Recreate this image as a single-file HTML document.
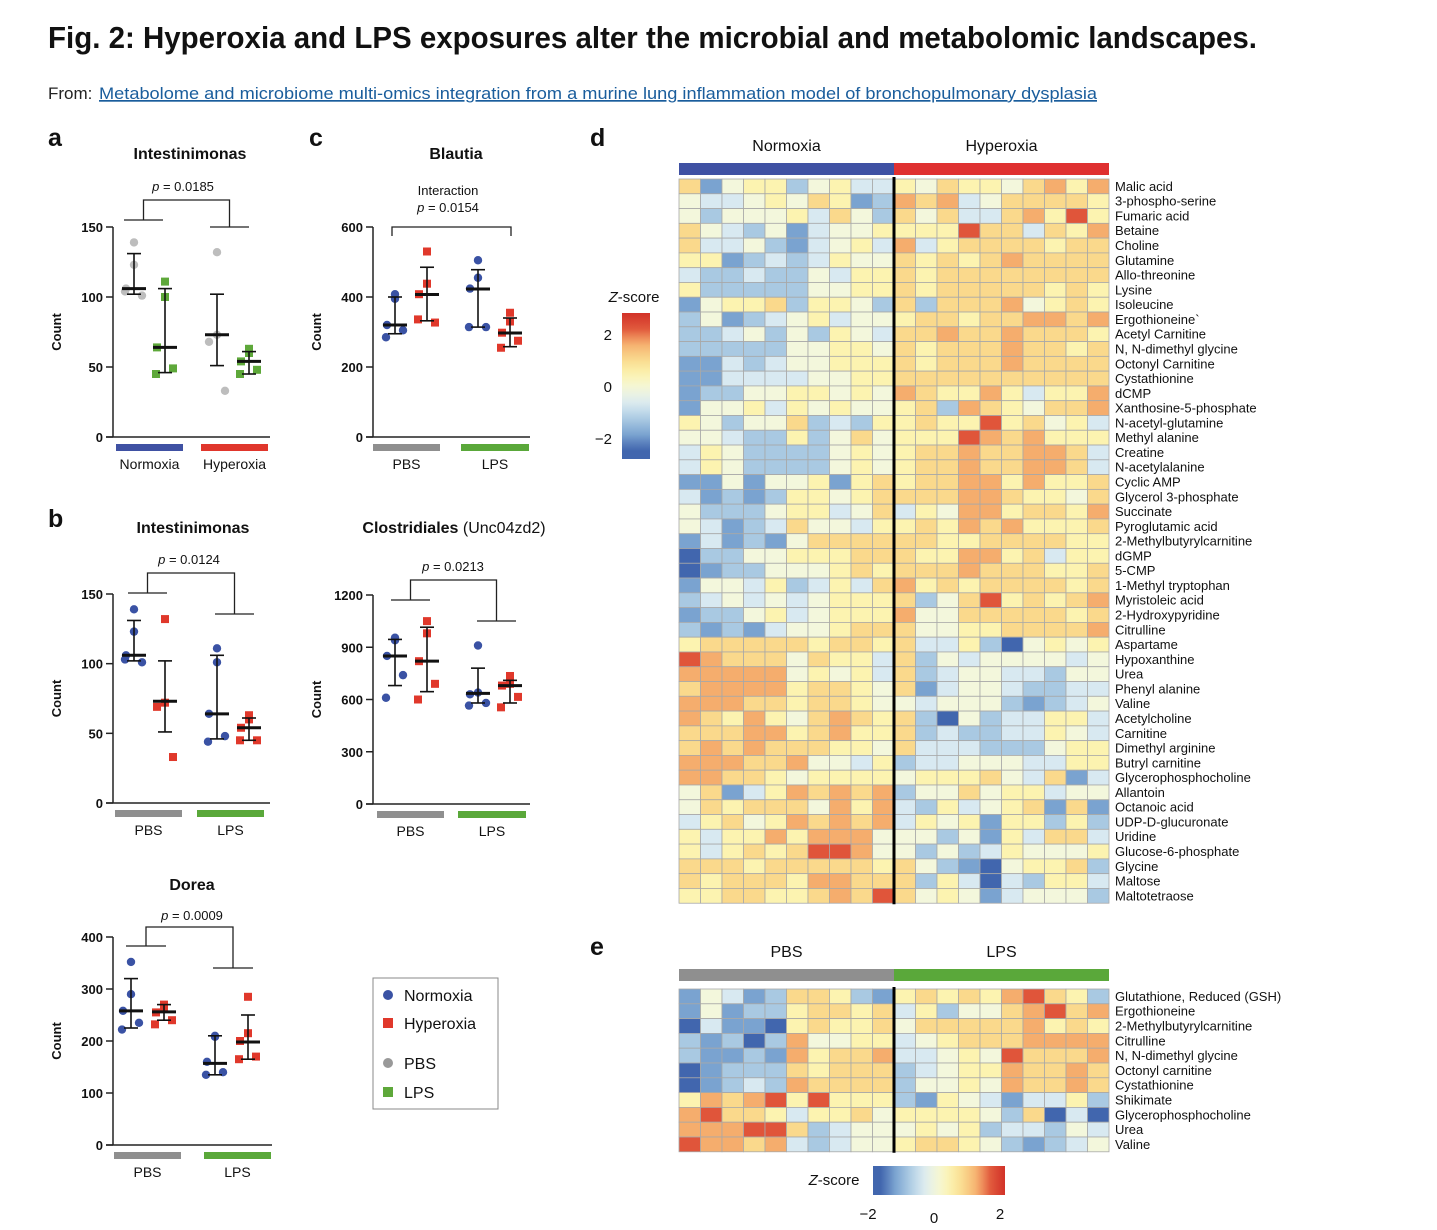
<!DOCTYPE html>
<html><head><meta charset="utf-8"><style>
body{margin:0;background:#fff;}
svg{display:block;font-family:"Liberation Sans",Arial,sans-serif;}
</style></head><body>
<svg id="fig" width="1437" height="1230" viewBox="0 0 1437 1230" xmlns="http://www.w3.org/2000/svg">
<text x="48" y="48" font-size="31" font-weight="bold" textLength="1209" lengthAdjust="spacingAndGlyphs" fill="#111">Fig. 2: Hyperoxia and LPS exposures alter the microbial and metabolomic landscapes.</text>
<text x="48" y="99" font-size="17" fill="#222">From: </text>
<text x="99" y="99" font-size="17" fill="#1a5d9c" text-decoration="underline" textLength="998" lengthAdjust="spacingAndGlyphs">Metabolome and microbiome multi-omics integration from a murine lung inflammation model of bronchopulmonary dysplasia</text>
<g id="panels"></g>
</svg>
<script>
// ---------- scatter data ----------
const aVals=[[139,123,106,101,104],[111,100,64,49,45],[132,73,68,33],[63,60,54,48,45]];
const aMean=[106,64,73,54], aLo=[102,46,51,45], aHi=[131,106,102,61];
const cVals=[[408,395,320,305,285],[530,438,408,327,336],[505,455,424,314,314],[355,330,298,275,255]];
const cMean=[320,407,423,297], cLo=[295,332,314,258], cHi=[400,485,478,340];
const bVals=[[139,123,106,101,103],[132,72,69,33],[111,101,64,48,44],[63,60,54,45,45]];
const bMean=[106,73,64,54], bLo=[102,51,46,45], bHi=[131,102,106,61];
const clVals=[[955,940,850,740,610],[1050,980,820,690,600],[910,640,630,580,565],[735,690,680,615,555]];
const clMean=[850,820,635,680], clLo=[680,645,580,580], clHi=[945,1015,780,710];
const dVals=[[352,290,258,235,222],[270,262,255,240,232],[210,208,160,140,135],[285,215,200,170,165]];
const dMean=[258,256,157,198], dLo=[225,240,135,165], dHi=[320,270,210,250];
const aTicks=[0,50,100,150], cTicks=[0,200,400,600], clTicks=[0,300,600,900,1200], dTicks=[0,100,200,300,400];

// ---------- heatmap data (levels 0..8, z=(level-4)/2) ----------
const dRowNames=["Malic acid","3-phospho-serine","Fumaric acid","Betaine","Choline","Glutamine","Allo-threonine","Lysine","Isoleucine","Ergothioneine`","Acetyl Carnitine","N, N-dimethyl glycine","Octonyl Carnitine","Cystathionine","dCMP","Xanthosine-5-phosphate","N-acetyl-glutamine","Methyl alanine","Creatine","N-acetylalanine","Cyclic AMP","Glycerol 3-phosphate","Succinate","Pyroglutamic acid","2-Methylbutyrylcarnitine","dGMP","5-CMP","1-Methyl tryptophan","Myristoleic acid","2-Hydroxypyridine","Citrulline","Aspartame","Hypoxanthine","Urea","Phenyl alanine","Valine","Acetylcholine","Carnitine","Dimethyl arginine","Butryl carnitine","Glycerophosphocholine","Allantoin","Octanoic acid","UDP-D-glucuronate","Uridine","Glucose-6-phosphate","Glycine","Maltose","Maltotetraose"];
const dLevels=["61455245335465546757","43345465127673466665","42444536426463367585","64324134455558663657","63342134537356666566","55123235446565676666","32232243556566666666","52222244556566666565","14556255426266674565","24123453445665667767","22342425436676676665","22222445546566676656","11323445556566676666","11333344556666666666","12244554547655753557","14453545445627654667","54244623255655856453","44322524645558767555","35422224545667667763","35422224545667667763","11414451565667757556","31212554566667765546","42224553463547756657","43123644355657675556","13121466666655666655","02244555666557756355","01224445656667666556","14435235367565666656","23434345556246856567","12245345557446666656","21213445666445566667","56666656656335204545","87666465536243444434","77777454536234433244","67777566546134432233","77766566544344421234","76575467656204233553","66677567556232233543","67676665546333222455","77766744352334443355","77665455554555643613","46135767672446455344","46566647573253456161","35645767673545155252","53557577744424153663","53565688744242354445","66656666656421045562","65666577666253032553","55665567686454134442"];
const eRowNames=["Glutathione, Reduced (GSH)","Ergothioneine","2-Methylbutyrylcarnitine","Citrulline","N, N-dimethyl glycine","Octonyl carnitine","Cystathionine","Shikimate","Glycerophosphocholine","Urea","Valine"];
const eLevels=["14312665215656578652","14122566563524467867","03110565564666667565","21202744553456667777","21121756673345486667","01222656662345576676","01232766662445476676","57678585552154313352","78665355645555426030","77788623444545233243","87767323445665421234"];
const zTicks=[-2,0,2];

const NS="http://www.w3.org/2000/svg";
const root=document.getElementById('panels');
function mk(tag,attrs,parent){const e=document.createElementNS(NS,tag);for(const k in attrs)e.setAttribute(k,attrs[k]);(parent||root).appendChild(e);return e;}
function txt(s,attrs,parent){const e=mk('text',attrs,parent);e.textContent=s;return e;}

const BLUE="#3a52a4",RED="#e0382b",GREY="#bdbdbd",GREEN="#5ea83a";
function scatter(cfg){
  const g=mk('g',{});
  
  
  const yS=v=>cfg.y0-(v/cfg.max)*(cfg.y0-cfg.yTop);
  const t=txt(cfg.title,{x:cfg.tx,y:cfg.ty,'font-size':16,'font-weight':'bold','text-anchor':'middle',fill:'#111'},g);
  
  if(cfg.titleExtra){const ts=mk('tspan',{'font-weight':'normal'},t);ts.textContent=cfg.titleExtra;}
  const ax=mk('g',{},g);
  mk('line',{x1:cfg.ax,y1:yS(cfg.max),x2:cfg.ax,y2:cfg.y0,stroke:'#222','stroke-width':1.5},ax);
  mk('line',{x1:cfg.ax-7,y1:cfg.y0,x2:cfg.xEnd,y2:cfg.y0,stroke:'#222','stroke-width':1.5},ax);
  cfg.ticks.forEach(v=>{mk('line',{x1:cfg.ax-7,y1:yS(v),x2:cfg.ax,y2:yS(v),stroke:'#222','stroke-width':1.5},ax);
    const l=txt(String(v),{x:cfg.ax-10,y:yS(v)+5,'font-size':13,'font-weight':'bold','text-anchor':'end',fill:'#111'},ax);
    });
  const yt=txt('Count',{x:0,y:0,'font-size':13,'font-weight':'bold','text-anchor':'middle',fill:'#111',transform:`translate(${cfg.ax-52},${(cfg.y0+yS(cfg.max))/2}) rotate(-90)`},g);
  
  cfg.bars.forEach((b,i)=>{const r=mk('rect',{x:b[0],y:cfg.y0+7,width:b[1]-b[0],height:7,fill:b[2]},g);
    
    const l=txt(b[3],{x:(b[0]+b[1])/2,y:cfg.y0+32,'font-size':14,'text-anchor':'middle',fill:'#111'},g);
    });
  const off=[0,0,-8,8,-9,9];
  cfg.vals.forEach((arr,gi)=>{
    const x=cfg.gx[gi], col=cfg.cols[gi], sq=cfg.shapes[gi]==='s';
    arr.forEach((v,j)=>{const px=x+off[j%off.length],py=yS(v);let m;
      if(sq)m=mk('rect',{x:px-4,y:py-4,width:8,height:8,fill:col},g);else m=mk('circle',{cx:px,cy:py,r:4.2,fill:col},g);
      });
    const e=mk('g',{},g);
    mk('line',{x1:x,y1:yS(cfg.lo[gi]),x2:x,y2:yS(cfg.hi[gi]),stroke:'#111','stroke-width':1.6},e);
    mk('line',{x1:x-7,y1:yS(cfg.lo[gi]),x2:x+7,y2:yS(cfg.lo[gi]),stroke:'#111','stroke-width':1.6},e);
    mk('line',{x1:x-7,y1:yS(cfg.hi[gi]),x2:x+7,y2:yS(cfg.hi[gi]),stroke:'#111','stroke-width':1.6},e);
    mk('line',{x1:x-12,y1:yS(cfg.mean[gi]),x2:x+12,y2:yS(cfg.mean[gi]),stroke:'#111','stroke-width':3},e);
  });
  const br=mk('g',{},g);
  const B=cfg.br;
  if(B.type==='two'){
    mk('line',{x1:B.l1,y1:B.yl,x2:B.l2,y2:B.yl,stroke:'#222','stroke-width':1.3},br);
    mk('line',{x1:B.r1,y1:B.yr,x2:B.r2,y2:B.yr,stroke:'#222','stroke-width':1.3},br);
    const lm=(B.l1+B.l2)/2,rm=(B.r1+B.r2)/2;
    mk('polyline',{points:`${lm},${B.yl} ${lm},${B.yt} ${rm},${B.yt} ${rm},${B.yr}`,fill:'none',stroke:'#222','stroke-width':1.3},br);
  }else{
    mk('polyline',{points:`${B.l},${B.yt+9} ${B.l},${B.yt} ${B.r},${B.yt} ${B.r},${B.yt+9}`,fill:'none',stroke:'#222','stroke-width':1.3},br);
  }
  cfg.ptext.forEach(p=>{const t2=txt('',{x:p[0],y:p[1],'font-size':13,'text-anchor':'middle',fill:'#111'},g);
    
    if(p[2].startsWith('p')){const i=mk('tspan',{'font-style':'italic'},t2);i.textContent='p';const r=mk('tspan',{},t2);r.textContent=p[2].slice(1);}
    else t2.textContent=p[2];});
}
function letter(s,x,y){const l=txt(s,{x:x,y:y,'font-size':25,'font-weight':'bold',fill:'#111'});}
letter('a',48,146);letter('c',309,146);letter('b',48,527);letter('d',590,146);letter('e',590,955);

scatter({name:'panel-a-intestinimonas',title:'Intestinimonas',tx:190,ty:159,ax:113,y0:437,yTop:227,max:150,xEnd:270,ticks:aTicks,
 vals:aVals,mean:aMean,lo:aLo,hi:aHi,gx:[134,165,217,249],cols:[GREY,GREEN,GREY,GREEN],shapes:['c','s','c','s'],
 bars:[[116,183,'#3f51a3','Normoxia'],[201,268,'#e0362c','Hyperoxia']],
 br:{type:'two',l1:124,l2:163,yl:220,r1:210,r2:249,yr:227,yt:200},ptext:[[183,191,'p = 0.0185']]});
scatter({name:'panel-c-blautia',title:'Blautia',tx:456,ty:159,ax:373,y0:437,yTop:227,max:600,xEnd:530,ticks:cTicks,
 vals:cVals,mean:cMean,lo:cLo,hi:cHi,gx:[395,427,478,510],cols:[BLUE,RED,BLUE,RED],shapes:['c','s','c','s'],
 bars:[[373,440,'#8f8f8f','PBS'],[461,529,'#5aa83a','LPS']],
 br:{type:'one',l:392,r:511,yt:227},ptext:[[448,195,'Interaction'],[448,212,'p = 0.0154']]});
scatter({name:'panel-b-intestinimonas',title:'Intestinimonas',tx:193,ty:533,ax:113,y0:803,yTop:594,max:150,xEnd:270,ticks:aTicks,
 vals:bVals,mean:bMean,lo:bLo,hi:bHi,gx:[134,165,217,249],cols:[BLUE,RED,BLUE,RED],shapes:['c','s','c','s'],
 bars:[[115,182,'#8f8f8f','PBS'],[197,264,'#5aa83a','LPS']],
 br:{type:'two',l1:128,l2:167,yl:593,r1:215,r2:254,yr:614,yt:573},ptext:[[189,564,'p = 0.0124']]});
scatter({name:'panel-b-clostridiales',title:'Clostridiales',titleExtra:' (Unc04zd2)',tx:454,ty:533,ax:373,y0:804,yTop:595,max:1200,xEnd:530,ticks:clTicks,
 vals:clVals,mean:clMean,lo:clLo,hi:clHi,gx:[395,427,478,510],cols:[BLUE,RED,BLUE,RED],shapes:['c','s','c','s'],
 bars:[[377,444,'#8f8f8f','PBS'],[458,526,'#5aa83a','LPS']],
 br:{type:'two',l1:391,l2:430,yl:600,r1:477,r2:516,yr:621,yt:580},ptext:[[453,571,'p = 0.0213']]});
scatter({name:'panel-b-dorea',title:'Dorea',tx:192,ty:890,ax:113,y0:1145,yTop:937,max:400,xEnd:272,ticks:dTicks,
 vals:dVals,mean:dMean,lo:dLo,hi:dHi,gx:[131,164,215,248],cols:[BLUE,RED,BLUE,RED],shapes:['c','s','c','s'],
 bars:[[114,181,'#8f8f8f','PBS'],[204,271,'#5aa83a','LPS']],
 br:{type:'two',l1:126,l2:166,yl:946,r1:213,r2:253,yr:968,yt:927},ptext:[[192,920,'p = 0.0009']]});

(function(){const g=mk('g',{});
 mk('rect',{x:373,y:978,width:125,height:131,fill:'#fff',stroke:'#888','stroke-width':1},g);
 const items=[['Normoxia',BLUE,'c',995],['Hyperoxia',RED,'s',1023],['PBS','#999','c',1063],['LPS',GREEN,'s',1092]];
 items.forEach(it=>{const e=mk('g',{},g);
  if(it[2]==='c')mk('circle',{cx:388,cy:it[3],r:5,fill:it[1]},e);else mk('rect',{x:383,y:it[3]-5,width:10,height:10,fill:it[1]},e);
  txt(it[0],{x:404,y:it[3]+6,'font-size':16,fill:'#111'},e);});
})();

const stops=[[-2,[65,102,174]],[-1.5,[122,163,208]],[-1,[169,201,226]],[-0.5,[216,233,241]],[0,[243,247,220]],[0.5,[252,243,176]],[1,[250,217,140]],[1.5,[245,173,109]],[2,[224,85,58]],[2.5,[210,50,40]]];
function zc(z){z=Math.max(-2,Math.min(2.5,z));for(let i=0;i<stops.length-1;i++){const a=stops[i],b=stops[i+1];if(z<=b[0]){const t=(z-a[0])/(b[0]-a[0]);const c=a[1].map((v,k)=>Math.round(v+(b[1][k]-v)*t));return `rgb(${c[0]},${c[1]},${c[2]})`;}}return 'rgb(210,50,40)';}
function heat(name,levels,rows,x0,y0,cw,rh,groups,gY){
 const g=mk('g',{});
 groups.forEach((gr,i)=>{const r=mk('rect',{x:x0+i*10*cw,y:gY,width:10*cw,height:12,fill:gr[1]},g);
  
  const l=txt(gr[0],{x:x0+i*10*cw+5*cw,y:gY-12,'font-size':16,'text-anchor':'middle',fill:'#111'},g);
  });
 levels.forEach((row,ri)=>{for(let ci=0;ci<row.length;ci++){const z=(Number(row[ci])-4)/2;
  const c=mk('rect',{x:x0+ci*cw,y:y0+ri*rh,width:cw,height:rh,fill:zc(z),stroke:'#a8a8a8','stroke-width':0.8},g);
  }
  const l=txt(rows[ri],{x:x0+20*cw+6,y:y0+ri*rh+rh/2+4.5,'font-size':13,fill:'#111'},g);
  });
 mk('line',{x1:x0+10*cw,y1:y0-2,x2:x0+10*cw,y2:y0+levels.length*rh+1,stroke:'#000','stroke-width':3},g);
}
heat('heatmap-d',dLevels,dRowNames,679,179,21.5,14.78,[['Normoxia','#3f51a3'],['Hyperoxia','#df3030']],163);
heat('heatmap-e',eLevels,eRowNames,679,989,21.5,14.8,[['PBS','#8f8f8f'],['LPS','#5aa83a']],969);

const defs=mk('defs',{});
const gv=mk('linearGradient',{id:'gv',x1:0,y1:1,x2:0,y2:0},defs);
const gh=mk('linearGradient',{id:'gh',x1:0,y1:0,x2:1,y2:0},defs);
for(let i=0;i<=18;i++){const z=-2.3+i*(4.8/18);mk('stop',{offset:(i/18),'stop-color':zc(z)},gv);mk('stop',{offset:(i/18),'stop-color':zc(z)},gh);}
(function(){const g=mk('g',{});
 mk('rect',{x:622,y:313,width:28,height:146,fill:'url(#gv)'},g);
 const t=txt('',{x:634,y:302,'font-size':15,'text-anchor':'middle',fill:'#111'},g);const i1=mk('tspan',{'font-style':'italic'},t);i1.textContent='Z';const i2=mk('tspan',{},t);i2.textContent='-score';
 const yz=z=>386-z*26;
 zTicks.forEach(z=>{const l=txt(z<0?'\u2212'+Math.abs(z):String(z),{x:612,y:yz(z)+6,'font-size':15,'text-anchor':'end',fill:'#111'},g);});
})();
(function(){const g=mk('g',{});
 mk('rect',{x:873,y:1166,width:132,height:29,fill:'url(#gh)'},g);
 const t=txt('',{x:834,y:1185,'font-size':15,'text-anchor':'middle',fill:'#111'},g);const i1=mk('tspan',{'font-style':'italic'},t);i1.textContent='Z';const i2=mk('tspan',{},t);i2.textContent='-score';
 const xz=z=>934+z*33;
 zTicks.forEach(z=>{const l=txt(z<0?'\u2212'+Math.abs(z):String(z),{x:xz(z),y:z===0?1223:1219,'font-size':15,'text-anchor':'middle',fill:'#111'},g);});
})();
</script>
</body></html>
